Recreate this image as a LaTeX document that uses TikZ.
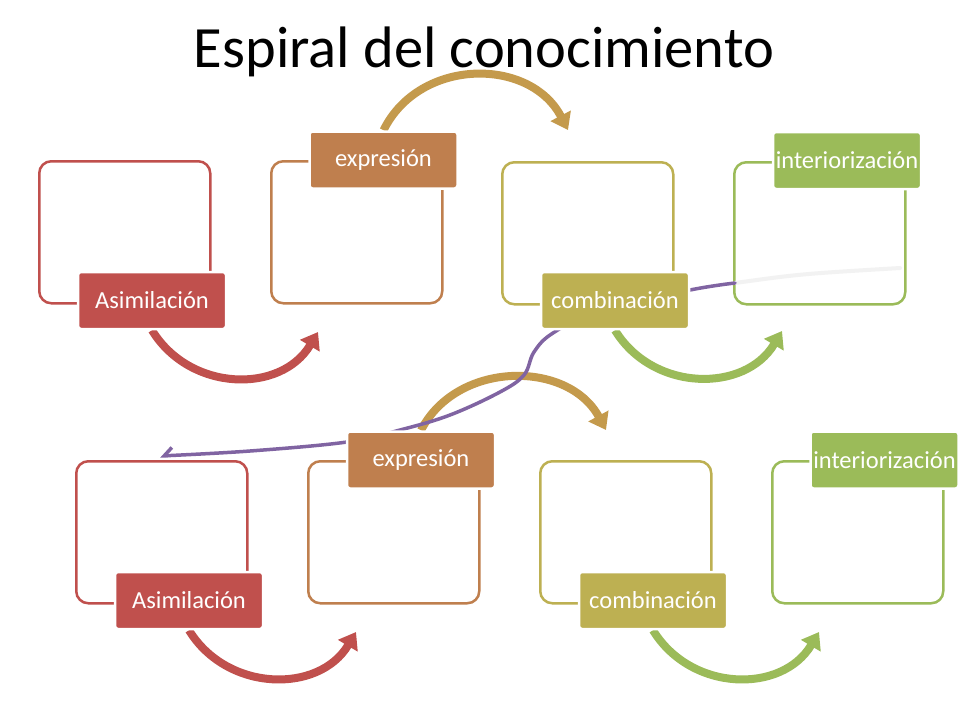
\documentclass[tikz,border=0pt]{standalone}
\usepackage{fontspec}
\setmainfont{Carlito}
\usetikzlibrary{arrows.meta}
\definecolor{cred}{HTML}{C0504D}
\definecolor{corange}{HTML}{BF7F4E}
\definecolor{cgold}{HTML}{C49A4C}
\definecolor{colive}{HTML}{BDB052}
\definecolor{cgreen}{HTML}{9BBB59}
\definecolor{cpurple}{HTML}{8064A2}
\pgfdeclarelayer{bg}
\pgfsetlayers{bg,main}
\tikzset{
  box/.style={draw, line width=2.5pt, rounded corners=12pt, minimum width=171pt, minimum height=142pt, anchor=north west, inner sep=0pt},
  lab/.style={rectangle, rounded corners=3pt, draw=white, line width=2.5pt, minimum width=148pt, minimum height=57pt, text=white, font=\fontsize{24.5}{24.5}\selectfont, inner sep=0pt},
  arr/.style={line width=8pt, -{Triangle[width=22pt,length=16pt]}},
  pline/.style={line width=3.5pt, cpurple, line cap=round, -{Straight Barb[harpoon,swap,length=8pt,width=16pt]}},
  ttl/.style={font=\fontsize{58.5}{58.5}\selectfont, anchor=base}
}
\begin{document}
\begin{tikzpicture}[x=1pt,y=-1pt]
\useasboundingbox (0,0) rectangle (960,720);
\node[ttl] (title) at (484,67) {Espiral del conocimiento};
% labels
\node[lab, fill=cred] (l1) at (152,300.5) {Asimilación};
\node[lab, fill=corange] (l2) at (383.5,160) {expresión};
\node[lab, fill=colive] (l3) at (615,300.5) {combinación};
\node[lab, fill=cgreen] (l4) at (847,160.5) {interiorización};
\node[lab, fill=cred] (l5) at (189,600.5) {Asimilación};
\node[lab, fill=corange] (l6) at (421,460) {expresión};
\node[lab, fill=colive] (l7) at (653,600.5) {combinación};
\node[lab, fill=cgreen] (l8) at (884.5,460) {interiorización};
% arrow ends
\coordinate (e1) at (318,332);
\coordinate (e2) at (568,130);
\coordinate (e3) at (782,331);
\coordinate (e5) at (356,632);
\coordinate (e6) at (606,430);
\coordinate (e7) at (819,632);
\coordinate (p0) at (735,283);
\coordinate (p1) at (160,456);
\coordinate (s0) at (900,268);
\begin{pgfonlayer}{bg}
\fill[white] (0,0) rectangle (960,720);
\node[box, draw=cred] (b1) at (38,160) {};
\node[box, draw=corange] (b2) at (270,160) {};
\node[box, draw=colive] (b3) at (501,161) {};
\node[box, draw=cgreen] (b4) at (733,161) {};
\node[box, draw=cred] (b5) at (75,460) {};
\node[box, draw=corange] (b6) at (307,460) {};
\node[box, draw=colive] (b7) at (539,460) {};
\node[box, draw=cgreen] (b8) at (771,460) {};
\draw[arr, cred] (l1.south) .. controls +(38,62) and +(-37,62) .. (e1);
\draw[arr, cgold] (l2.north) .. controls +(36,-73) and +(-38,-73) .. (e2);
\draw[arr, cgreen] (l3.south) .. controls +(38,62) and +(-37,62) .. (e3);
\draw[arr, cred] (l5.south) .. controls +(38,62) and +(-37,62) .. (e5);
\draw[arr, cgold] (l6.north) .. controls +(36,-70) and +(-38,-70) .. (e6);
\draw[arr, cgreen] (l7.south) .. controls +(38,62) and +(-37,62) .. (e7);
\draw[line width=4pt, black!5, line cap=round] (p0) .. controls (800,274) .. (s0);
\draw[pline] plot[smooth, tension=0.6] coordinates {(p0) (690,290) (600,310) (553,333) (534,352) (524,375) (500,392) (450,415) (400,430) (347,442) (250,451) (p1)};
\end{pgfonlayer}
\end{tikzpicture}
\end{document}
